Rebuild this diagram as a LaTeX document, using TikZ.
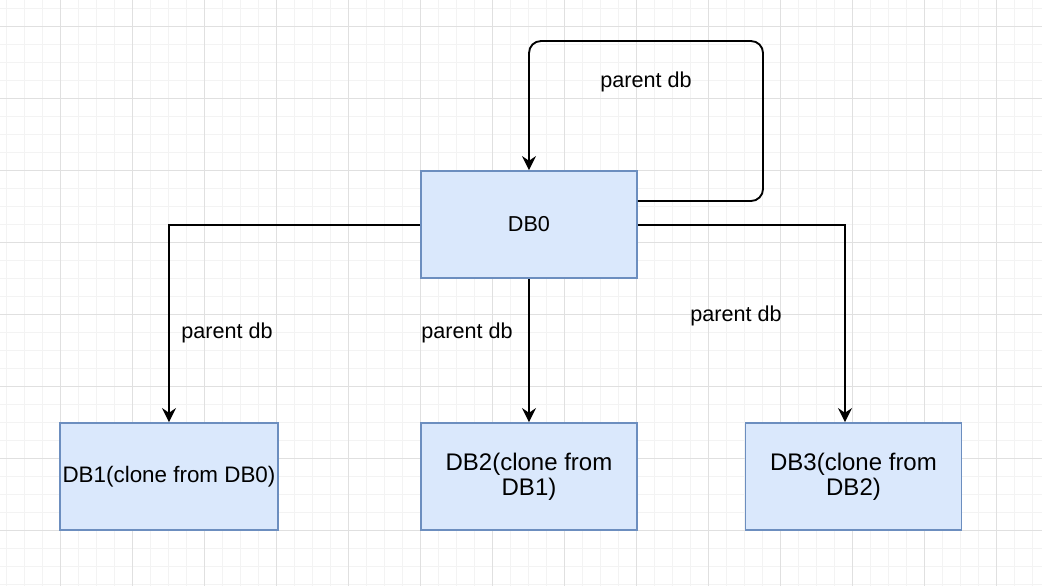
\documentclass[tikz,border=0pt]{standalone}
\usepackage{fontspec}
\setmainfont{Liberation Sans}
\usepackage{tikz}
\usetikzlibrary{arrows.meta}

\definecolor{dbfill}{HTML}{DAE8FC}
\definecolor{dbline}{HTML}{6C8EBF}
\definecolor{gridminor}{HTML}{F3F3F3}
\definecolor{gridmajor}{HTML}{E0E0E0}

\begin{document}
\begin{tikzpicture}[x=0.75pt,y=-0.75pt,
    dbbox/.style={draw=dbline,fill=dbfill,line width=1.35pt,minimum width=162pt,minimum height=80.25pt,align=center,inner sep=2pt},
    bigtext/.style={font=\fontsize{18}{18.8}\selectfont},
    link/.style={draw=black,line width=1.4pt,-{Stealth[length=10.5pt,width=10.5pt,inset=3.5pt]}},
    lbl/.style={draw=none,inner sep=1pt}]

\fontsize{16.2}{19.5}\selectfont

% background and grid
\fill[white] (0,0) rectangle (1042,586);
\useasboundingbox (0,0) rectangle (1042,586);
\foreach \gx in {6,24,...,1042}{
    \draw[gridminor,line width=0.75pt] (\gx,0) -- (\gx,586);
}
\foreach \gy in {8.7,26.7,...,586}{
    \draw[gridminor,line width=0.75pt] (0,\gy) -- (1042,\gy);
}
\foreach \gx in {60,132,...,1042}{
    \draw[gridmajor,line width=0.75pt] (\gx,0) -- (\gx,586);
}
\foreach \gy in {26.7,98.7,...,586}{
    \draw[gridmajor,line width=0.75pt] (0,\gy) -- (1042,\gy);
}

% databases
\node[dbbox] (db0) at (529,224.5) {DB0};
\node[dbbox,font=\fontsize{16.8}{19.5}\selectfont] (db1) at (169,476.5) {DB1(clone from DB0)};
\node[dbbox,bigtext] (db2) at (529,476.5) {DB2(clone from\\DB1)};
\node[dbbox,bigtext] (db3) at (853.5,476.5) {DB3(clone from\\DB2)};

% links
\coordinate (loop) at (763,41);
\draw[link,rounded corners=9pt] ([yshift=17.6pt]db0.east) -| (loop) -| (db0.north);
\draw[link] ([yshift=-0.4pt]db0.west) -| (db1.north);
\draw[link] (db0.south) -- (db2.north);
\draw[link] ([yshift=-0.4pt]db0.east) -| ([xshift=-6.4pt]db3.north);

% labels
\node[lbl] (l0) at (646,82) {parent db};
\node[lbl] (l1) at (227,333) {parent db};
\node[lbl] (l2) at (467,333) {parent db};
\node[lbl] (l3) at (736,316) {parent db};

\end{tikzpicture}
\end{document}
